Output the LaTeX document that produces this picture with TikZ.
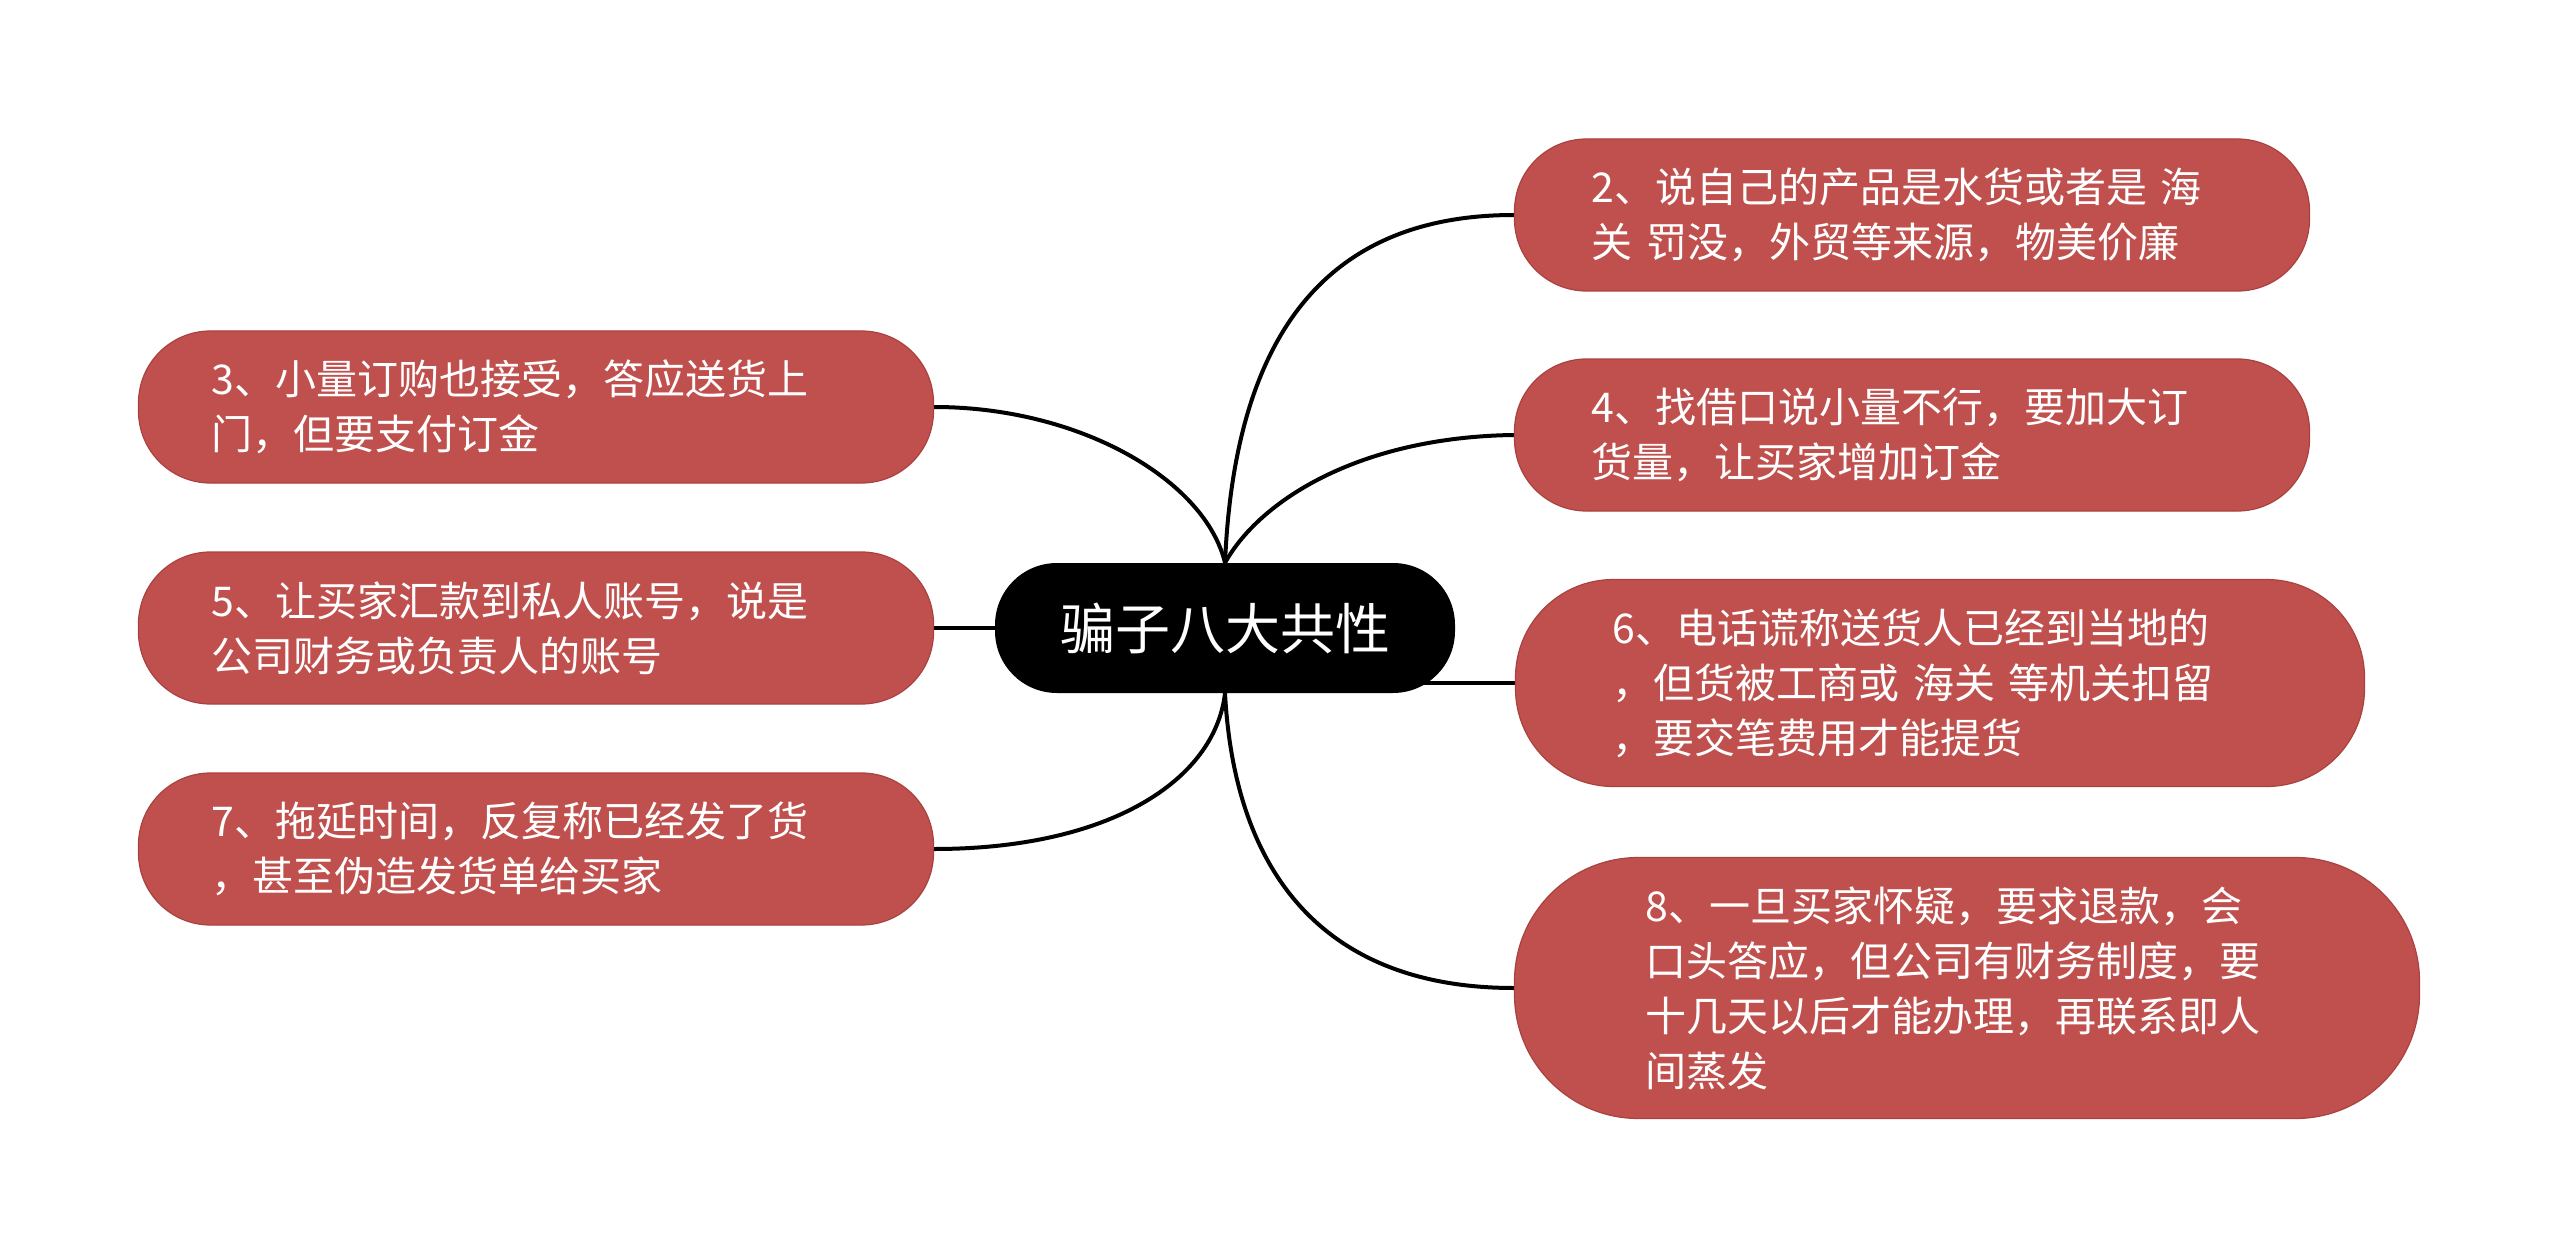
\documentclass[tikz,border=0pt]{standalone}
\usepackage{fontspec}
\setmainfont{Noto Sans CJK SC}
\usetikzlibrary{backgrounds}
\definecolor{boxred}{HTML}{C0504D}
\definecolor{boxedge}{HTML}{A9423F}
\tikzset{
  leaf/.style={draw=boxedge, line width=1.2pt, fill=boxred, text=white, inner ysep=0pt,
    align=left, font=\fontsize{41pt}{55pt}\selectfont},
  smallleaf/.style={leaf, minimum width=795pt, minimum height=152pt, rounded corners=72pt},
  rootnode/.style={fill=black, text=white, inner sep=0pt, minimum width=460pt,
    minimum height=130pt, rounded corners=62pt, font=\fontsize{55pt}{66pt}\selectfont},
  link/.style={draw=black, line width=4pt}
}
\begin{document}
\begin{tikzpicture}[x=1pt, y=-1pt]
\useasboundingbox (0,0) rectangle (2560,1257);
\node[rootnode] (c) at (1225,628) {骗子八大共性};
\node[smallleaf, inner xsep=77pt, text width=641pt] (n2) at (1912,215)
  {2、说自己的产品是水货或者是 海\\关 罚没，外贸等来源，物美价廉};
\node[smallleaf, inner xsep=77pt, text width=641pt] (n4) at (1912,435)
  {4、找借口说小量不行，要加大订\\货量，让买家增加订金};
\node[leaf, inner xsep=97pt, text width=655pt, minimum width=849pt, minimum height=207pt, rounded corners=98pt] (n6) at (1940,683)
  {6、电话谎称送货人已经到当地的\\，但货被工商或 海关 等机关扣留\\，要交笔费用才能提货};
\node[leaf, inner xsep=131pt, text width=643pt, minimum width=905pt, minimum height=261pt, rounded corners=124pt] (n8) at (1967,988)
  {8、一旦买家怀疑，要求退款，会\\口头答应，但公司有财务制度，要\\十几天以后才能办理，再联系即人\\间蒸发};
\node[smallleaf, inner xsep=73pt, text width=649pt] (n3) at (536,407)
  {3、小量订购也接受，答应送货上\\门，但要支付订金};
\node[smallleaf, inner xsep=73pt, text width=649pt] (n5) at (536,628)
  {5、让买家汇款到私人账号，说是\\公司财务或负责人的账号};
\node[smallleaf, inner xsep=73pt, text width=649pt] (n7) at (536,849)
  {7、拖延时间，反复称已经发了货\\，甚至伪造发货单给买家};
\begin{scope}[on background layer]
\draw[link] (c.north) .. controls (1235,330) and (1330,215) .. (n2.west);
\draw[link] (c.north) .. controls (1260,500) and (1360,437) .. (n4.west);
\draw[link] (c.north) .. controls (1205,480) and (1080,407) .. (n3.east);
\draw[link] (c.west) -- (n5.east);
\draw[link] (c.center |- n6.west) -- (n6.west);
\draw[link] (c.south) .. controls (1215,780) and (1110,849) .. (n7.east);
\draw[link] (c.south) .. controls (1235,880) and (1330,988) .. (n8.west);
\end{scope}
\end{tikzpicture}
\end{document}
